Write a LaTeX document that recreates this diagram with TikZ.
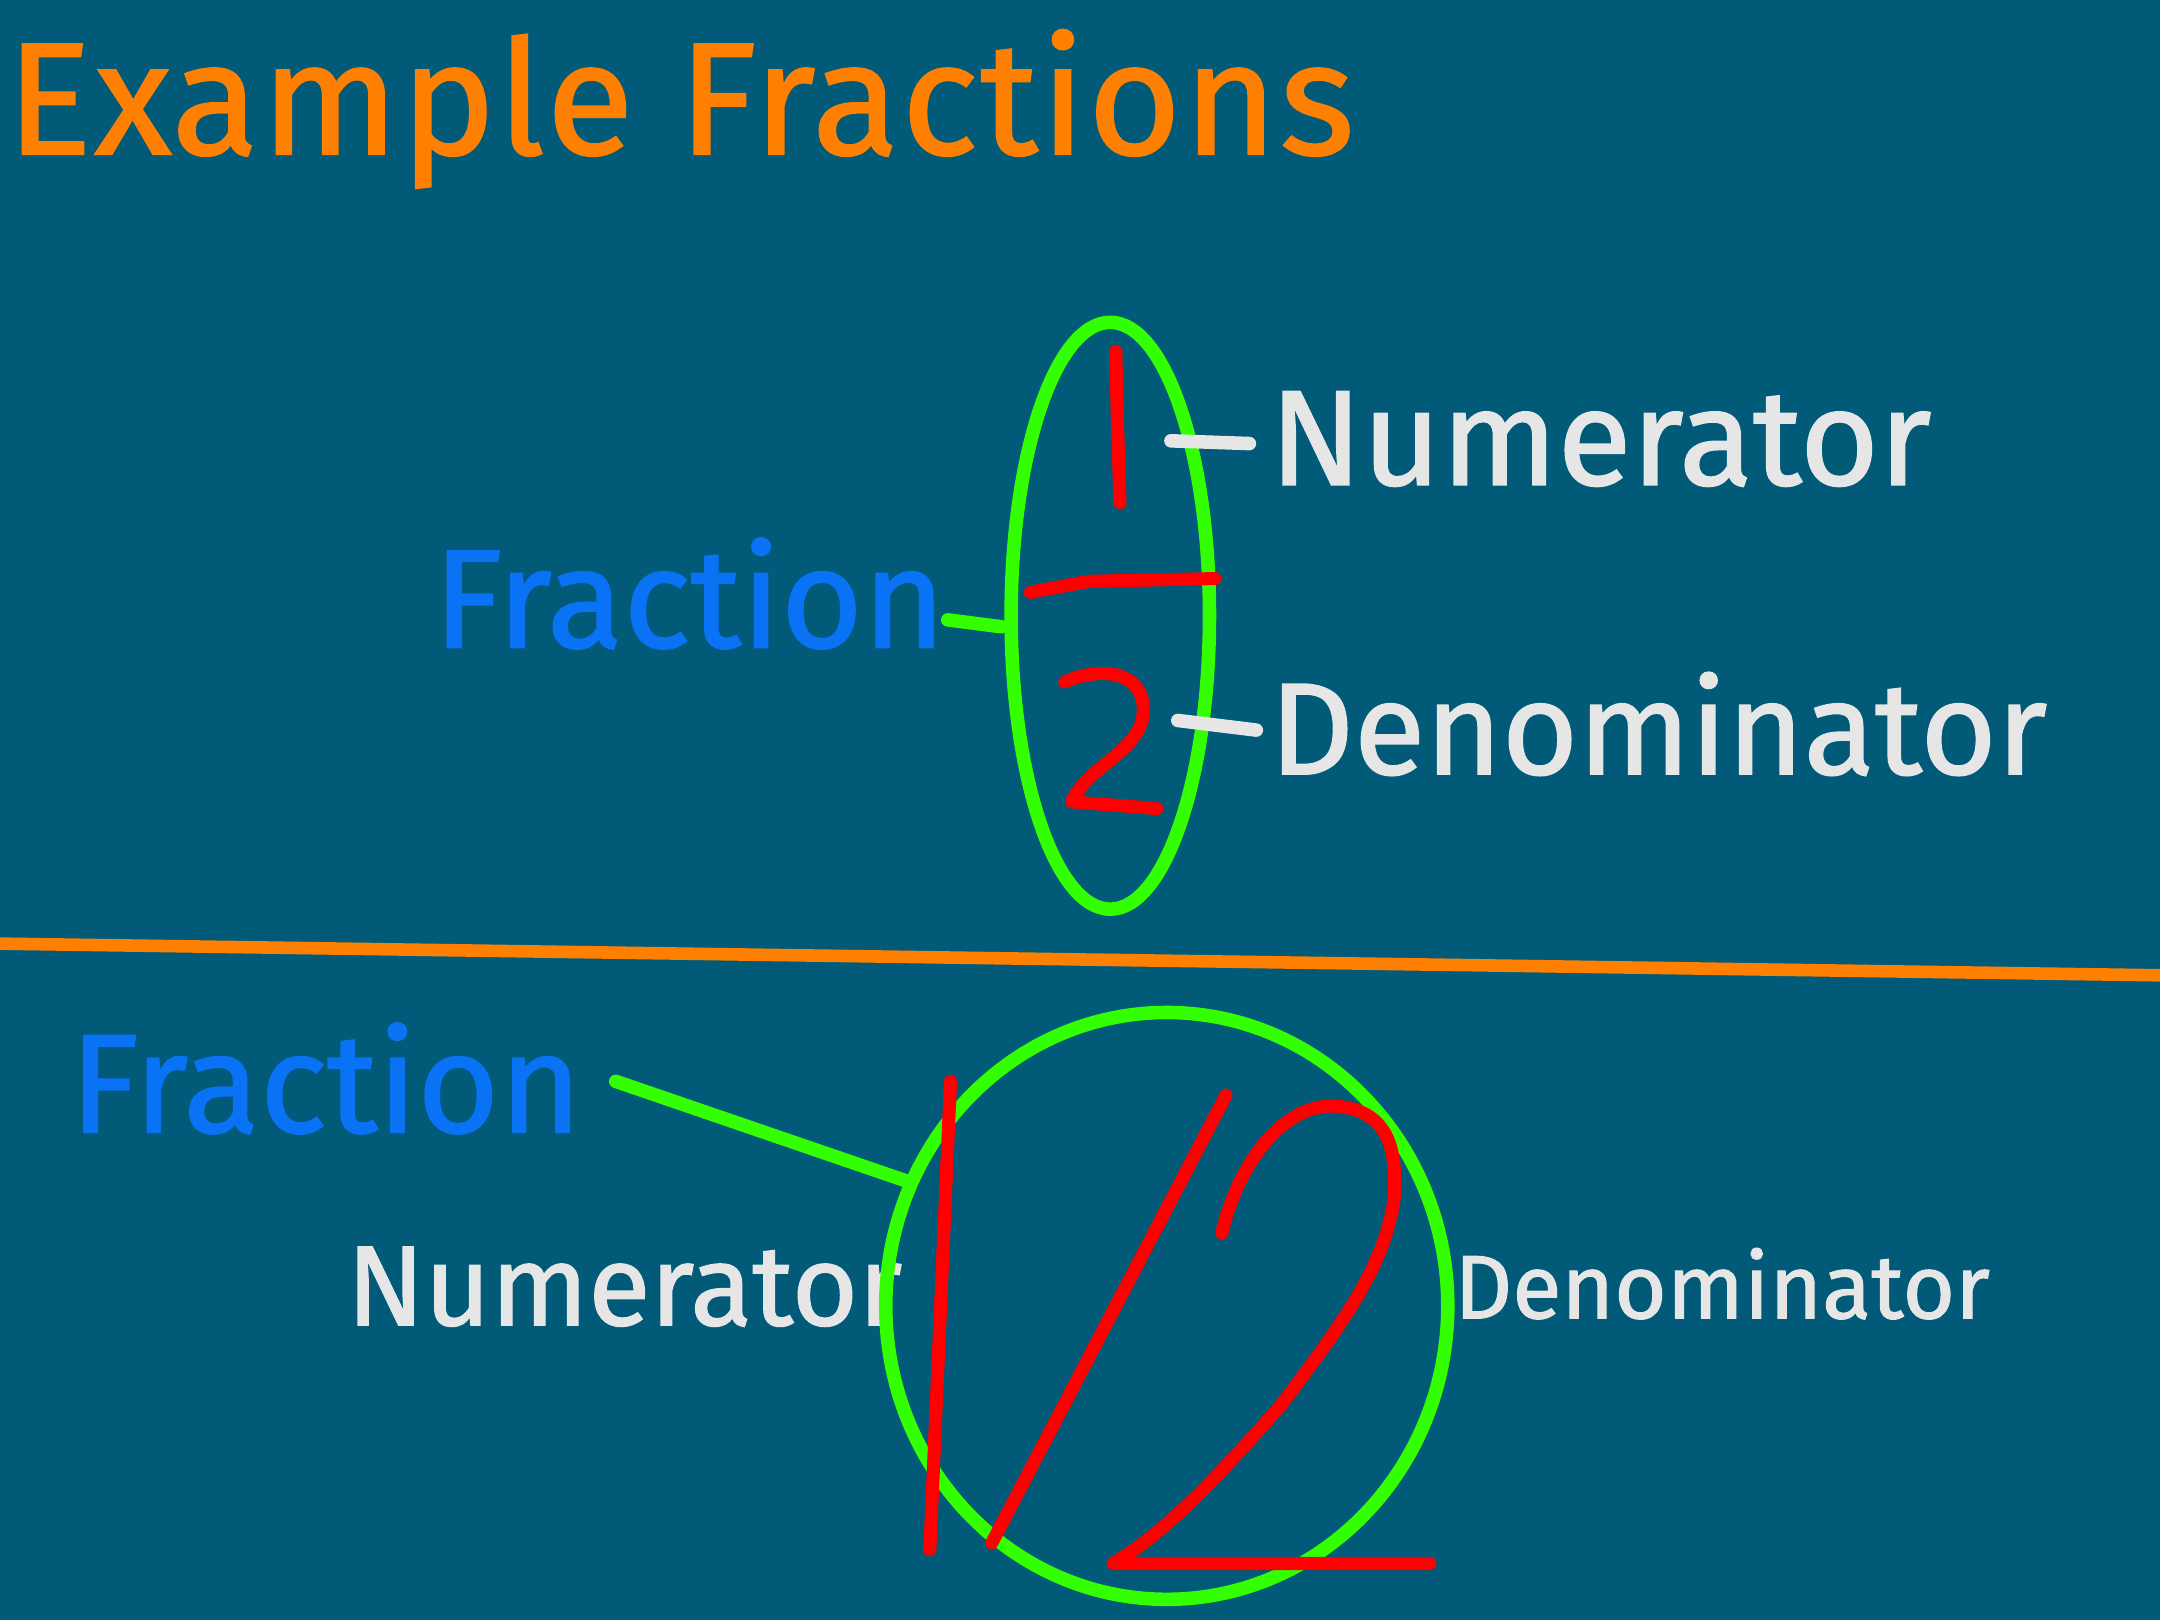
\documentclass[tikz,border=0pt]{standalone}
\usepackage{fontspec}
\setmainfont{Fira Sans}[FakeBold=1.2,BoldFont={Fira Sans}]
\definecolor{bg}{HTML}{005A78}
\definecolor{org}{HTML}{FF7F00}
\definecolor{grn}{HTML}{33FF00}
\definecolor{blu}{HTML}{0A72F5}
\definecolor{wht}{HTML}{E6E6E6}
\begin{document}
\begin{tikzpicture}[x=0.01cm,y=-0.01cm,
  redline/.style={red,line width=2.7pt,line cap=round,line join=round},
  grnline/.style={grn,line width=2.8pt,line cap=round},
  whtline/.style={wht,line width=2.8pt,line cap=round},
  lbl/.style={anchor=base west,inner sep=0pt,font=\bfseries}]
\fill[bg] (0,0) rectangle (1568,1176);
\useasboundingbox (0,0) rectangle (1568,1176);
\node[lbl,text=org,font=\bfseries\fontsize{33}{36}\selectfont\addfontfeature{LetterSpace=1.5}] (title) at (4,112) {Example Fractions};
% top
\node[lbl,text=blu,font=\bfseries\fontsize{29}{32}\selectfont] (frac1) at (314,470) {Fraction};
\node[lbl,text=wht,font=\bfseries\fontsize{28}{32}\selectfont] (num1) at (921,352) {Numerator};
\node[lbl,text=wht,font=\bfseries\fontsize{27}{32}\selectfont] (den1) at (921,562) {Denominator};
\draw[grnline] (806,447) ellipse [x radius=72,y radius=213];
\draw[grnline] (688,450) -- (727,455);
\draw[redline] (810,255) -- (811,300) -- (813,365);
\draw[redline] (748,430) -- (790,422) -- (882,420);
\draw[redline] (773,495) .. controls (800,483) and (830,488) .. (830,515) .. controls (830,545) and (790,555) .. (778,582) -- (840,587);
\draw[whtline] (850,320) -- (907,322);
\draw[whtline] (855,523) -- (912,530);
\draw[org,line width=2.6pt] (0,685) -- (1568,708);
% bottom
\node[lbl,text=blu,font=\bfseries\fontsize{29}{32}\selectfont] (frac2) at (50,822) {Fraction};
\node[lbl,text=wht,font=\bfseries\fontsize{23.5}{28}\selectfont] (num2) at (251,962) {Numerator};
\node[lbl,text=wht,font=\bfseries\fontsize{18.6}{22}\selectfont] (den2) at (1055,957) {Denominator};
\draw[grnline] (847,948) ellipse [x radius=204,y radius=213];
\draw[grnline] (447,785) -- (660,858);
\draw[redline] (690,785) -- (675,1125);
\draw[redline] (890,795) -- (720,1120);
\draw[redline] (887,895) .. controls (900,840) and (935,800) .. (970,803) .. controls (1005,806) and (1015,830) .. (1012,870) .. controls (1005,920) and (975,960) .. (930,1020) .. controls (890,1065) and (850,1110) .. (808,1135) -- (1038,1135);
\end{tikzpicture}
\end{document}
